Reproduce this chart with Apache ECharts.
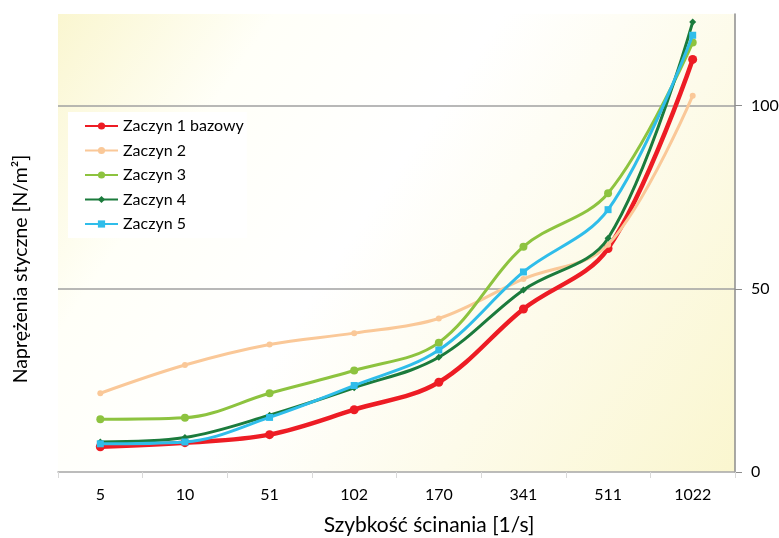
<!DOCTYPE html>
<html>
<head>
<meta charset="utf-8">
<script src="https://cdn.jsdelivr.net/npm/echarts@6/dist/echarts.min.js"></script>
<style>html,body{margin:0;padding:0;background:#fff}#c{width:779px;height:538px}</style>
</head>
<body>
<div id="c"></div>
<script>
const categories = ['5', '10', '51', '102', '170', '341', '511', '1022'];
const yTicks = [0, 50, 100];
const seriesNames = ['Zaczyn 1 bazowy', 'Zaczyn 2', 'Zaczyn 3', 'Zaczyn 4', 'Zaczyn 5'];
const zaczyn1 = [6.9, 8.0, 10.2, 17.0, 24.5, 44.5, 61.0, 112.6];
const zaczyn2 = [21.5, 29.2, 34.8, 37.9, 41.9, 52.7, 62.0, 102.7];
const zaczyn3 = [14.4, 14.8, 21.5, 27.7, 35.3, 61.5, 76.1, 117.2];
const zaczyn4 = [8.2, 9.4, 15.5, 23.0, 31.3, 49.7, 63.8, 122.8];
const zaczyn5 = [7.7, 8.2, 14.9, 23.6, 33.3, 54.6, 71.6, 119.2];

const FONT = 'Lato, "Open Sans", sans-serif';
const styles = [
  {color: '#ed1c24', width: 4.5, symbol: 'circle', size: 9},
  {color: '#fac898', width: 3, symbol: 'circle', size: 6},
  {color: '#8dc33f', width: 3, symbol: 'circle', size: 8},
  {color: '#1b7b3c', width: 3, symbol: 'diamond', size: 7},
  {color: '#2fbdea', width: 3, symbol: 'rect', size: 7}
];
const values = [zaczyn1, zaczyn2, zaczyn3, zaczyn4, zaczyn5];

const chart = echarts.init(document.getElementById('c'), null, {renderer: 'canvas'});
chart.setOption({
  backgroundColor: '#ffffff',
  animation: false,
  textStyle: {fontFamily: FONT},
  grid: {
    left: 58, right: 44, top: 14, bottom: 66,
    containLabel: false,
    outerBoundsMode: 'none',
    show: true, borderWidth: 0,
    backgroundColor: new echarts.graphic.LinearGradient(0, 0, 1, 1, [
      {offset: 0, color: '#faf6d0'},
      {offset: 0.22, color: '#fffff8'},
      {offset: 0.45, color: '#ffffff'},
      {offset: 0.7, color: '#fdfbea'},
      {offset: 1, color: '#faf6cf'}
    ])
  },
  graphic: [{
    type: 'text',
    left: 11, top: 'middle',
    rotation: Math.PI / 2,
    style: {text: 'Naprężenia styczne [N/m²]', font: '19.5px ' + FONT, fill: '#000'}
  }, {
    type: 'text',
    x: 429, y: 525,
    style: {text: 'Szybkość ścinania [1/s]', font: '21px ' + FONT, fill: '#000', align: 'center', verticalAlign: 'middle'}
  }],
  legend: {
    orient: 'vertical',
    left: 68, top: 112,
    padding: [6, 3, 6, 16],
    itemGap: 8.5,
    itemWidth: 33, itemHeight: 9,
    backgroundColor: '#ffffff',
    textStyle: {fontFamily: FONT, fontSize: 16, color: '#000', lineHeight: 15},
    data: seriesNames
  },
  xAxis: {
    type: 'category',
    data: categories,
    boundaryGap: true,
    axisLine: {lineStyle: {color: '#a6a6a6', width: 1.5}},
    axisTick: {show: true, interval: 0, length: 6, lineStyle: {color: '#d9d9d9', width: 1}},
    axisLabel: {fontFamily: FONT, fontSize: 16, color: '#000', margin: 15, interval: 0},
    splitLine: {show: false}
  },
  yAxis: {
    type: 'value',
    position: 'right',
    min: 0, max: 125, interval: 50,
    axisLine: {show: true, lineStyle: {color: '#8c8c8c', width: 1.5}},
    axisTick: {show: true, length: 7, customValues: yTicks, lineStyle: {color: '#8c8c8c'}},
    axisLabel: {
      fontFamily: FONT, fontSize: 16, color: '#000', margin: 16,
      customValues: yTicks,
      formatter: v => (yTicks.indexOf(v) >= 0 ? String(v) : '')
    },
    splitLine: {show: true, showMinLine: false, showMaxLine: true, lineStyle: {color: '#a0a0a0', width: 1.5}}
  },
  series: values.map((d, i) => ({
    name: seriesNames[i],
    type: 'line',
    data: d,
    smooth: 0.35,
    symbol: styles[i].symbol,
    symbolSize: styles[i].size,
    showSymbol: true,
    lineStyle: {color: styles[i].color, width: styles[i].width},
    itemStyle: {color: styles[i].color},
    emphasis: {disabled: true},
    z: 2 + i
  }))
});
</script>
</body>
</html>
